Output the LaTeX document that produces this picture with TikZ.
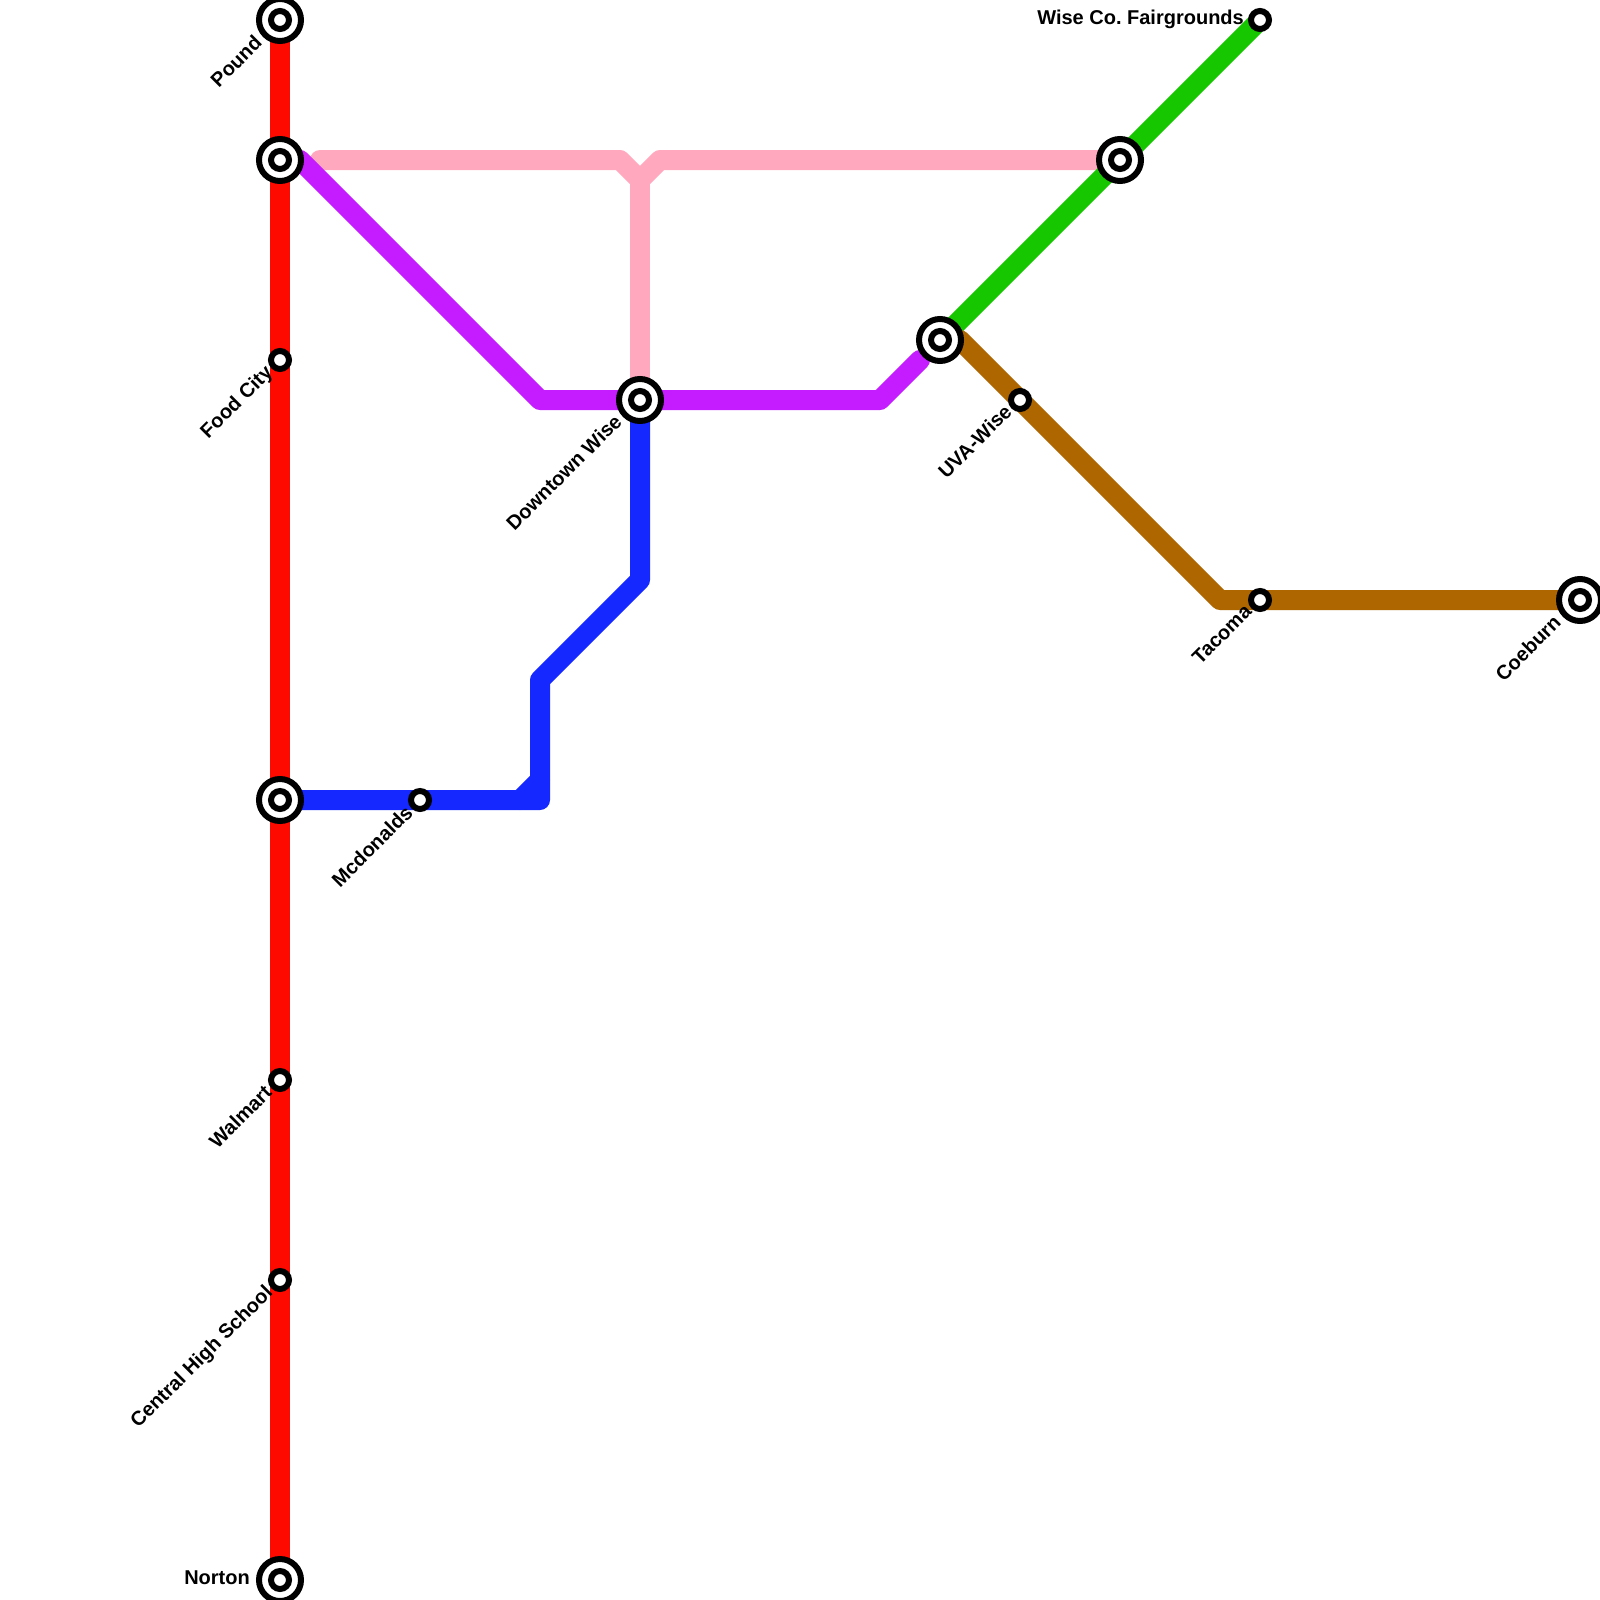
\documentclass[tikz,border=0pt]{standalone}
\usepackage{fontspec}
\setmainfont{Liberation Sans}
\usetikzlibrary{backgrounds}
\definecolor{linered}{HTML}{FF0A00}
\definecolor{linepink}{HTML}{FFA8BE}
\definecolor{linepurple}{HTML}{C41CFF}
\definecolor{lineblue}{HTML}{1428FF}
\definecolor{linegreen}{HTML}{16C700}
\definecolor{linebrown}{HTML}{AE6600}
\frenchspacing
\tikzset{
  hub/.style={circle,draw=black,fill=white,line width=6pt,inner sep=0pt,minimum size=42pt,
    path picture={\draw[black,line width=6pt] (path picture bounding box.center) circle (9pt);}},
  stop/.style={circle,draw=black,fill=white,line width=6pt,inner sep=0pt,minimum size=18pt},
  route/.style={line width=20pt,line cap=round,line join=round},
  slant/.style={font=\fontsize{20pt}{22pt}\selectfont\bfseries,inner sep=0pt,rotate=45,anchor=east},
  flat/.style={font=\fontsize{20pt}{22pt}\selectfont\bfseries,inner sep=0pt,anchor=east}
}
\begin{document}
\begin{tikzpicture}[x=1pt,y=-1pt]
\useasboundingbox (0,0) rectangle (1600,1600);
\clip (0,0) rectangle (1600,1600);
% stations
\node[hub] (pound) at (280,20) {};
\node[hub] (jct) at (280,160) {};
\node[stop] (food) at (280,360) {};
\node[hub] (west) at (280,800) {};
\node[stop] (walmart) at (280,1080) {};
\node[stop] (central) at (280,1280) {};
\node[hub] (norton) at (280,1580) {};
\node[stop] (mcd) at (420,800) {};
\node[hub] (down) at (640,400) {};
\node[hub] (east) at (940,340) {};
\node[stop] (uva) at (1020,400) {};
\node[hub] (north) at (1120,160) {};
\node[stop] (fair) at (1260,20) {};
\node[stop] (tacoma) at (1260,600) {};
\node[hub] (coe) at (1580,600) {};
% bends
\coordinate (p1) at (320,160);
\coordinate (p2) at (620,160);
\coordinate (p3) at (640,180);
\coordinate (p4) at (660,160);
\coordinate (v1) at (300,160);
\coordinate (v2) at (540,400);
\coordinate (v3) at (880,400);
\coordinate (v4) at (920,360);
\coordinate (b1) at (540,800);
\coordinate (b2) at (540,680);
\coordinate (b3) at (640,580);
\coordinate (b4) at (520,800);
\coordinate (b5) at (540,780);
\coordinate (r1) at (960,340);
\coordinate (r2) at (1220,600);
% lines
\begin{scope}[on background layer]
\fill[white] (0,0) rectangle (1600,1600);
\draw[route,linered] (pound.center) -- (norton.center);
\draw[route,linepink] (p1) -- (p2) -- (p3) -- (p4) -- (north.center);
\draw[route,linepink] (p3) -- (down.center);
\draw[route,linegreen] (east.center) -- (fair.center);
\draw[route,linebrown] (r1) -- (r2) -- (coe.center);
\draw[route,lineblue] (west.center) -- (b1) -- (b2) -- (b3) -- (down.center);
\draw[route,lineblue] (b4) -- (b5);
\draw[route,linepurple] (v1) -- (v2) -- (v3) -- (v4);
\end{scope}
% labels
\node[slant] (lpound) at (258,39) {Pound};
\node[slant] (lfood) at (270,370) {Food City};
\node[slant] (lwalmart) at (268,1089) {Walmart};
\node[slant] (lcentral) at (270,1290) {Central High School};
\node[flat] (lnorton) at (250,1578) {Norton};
\node[slant] (lmcd) at (409,809) {Mcdonalds};
\node[slant] (ldown) at (618,418) {Downtown Wise};
\node[slant] (luva) at (1008,408) {UVA-Wise};
\node[flat] (lfair) at (1244,19.5) {Wise Co. Fairgrounds};
\node[slant] (ltacoma) at (1248,608) {Tacoma};
\node[slant] (lcoe) at (1557,619) {Coeburn};
\end{tikzpicture}
\end{document}
